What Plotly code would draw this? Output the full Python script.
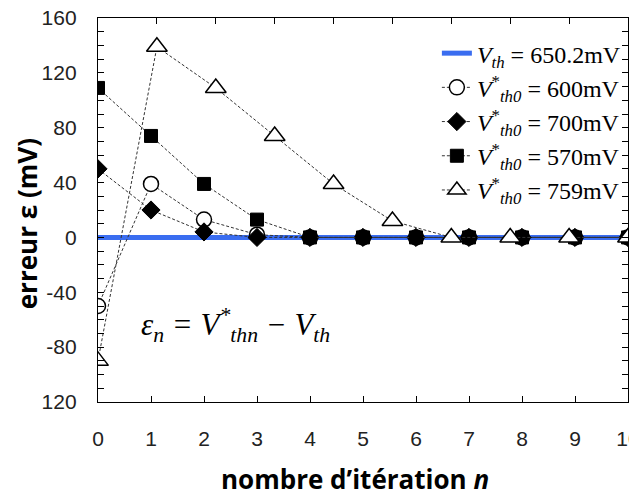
import plotly.graph_objects as go

# Data
iterations = [0, 1, 2, 3, 4, 5, 6, 7, 8, 9, 10]
iterations_759 = [0, 1, 2, 3, 4, 5, 6, 7, 8, 9]   # plotted on the top axis (0..9)
vth_x = [0, 10]
vth_err = [0, 0]
err_600 = [-50, 39, 13, 2, 0, 0, 0, 0, 0, 0, 0]
err_700 = [50, 20, 4, 0, 0, 0, 0, 0, 0, 0, 0]
err_570 = [109, 74, 39, 13, 0, 0, 0, 0, 0, 0, 0]
err_759 = [-90, 139, 109, 74, 39, 12, 0, 0, 0, 0]

y_tickvals = [-120, -80, -40, 0, 40, 80, 120, 160]
y_ticktext = ["120", "-80", "-40", "0", "40", "80", "120", "160"]
x_tickvals = [0, 1, 2, 3, 4, 5, 6, 7, 8, 9, 10]

names = {
    "vth": "<i>V</i><sub><i>th</i></sub> = 650.2mV",
    "600": "<i>V</i><sup>*</sup><sub><i>th0</i></sub> = 600mV",
    "700": "<i>V</i><sup>*</sup><sub><i>th0</i></sub> = 700mV",
    "570": "<i>V</i><sup>*</sup><sub><i>th0</i></sub> = 570mV",
    "759": "<i>V</i><sup>*</sup><sub><i>th0</i></sub> = 759mV",
}

dash_line = dict(color="#333333", width=1, dash="3px,2px")

fig = go.Figure()
fig.add_trace(go.Scatter(x=vth_x, y=vth_err, mode="lines", name=names["vth"],
                         line=dict(color="#3a6df0", width=5)))
fig.add_trace(go.Scatter(x=iterations, y=err_600, mode="lines+markers", name=names["600"],
                         line=dash_line,
                         marker=dict(symbol="circle", size=15, color="white",
                                     line=dict(color="black", width=1.5))))
fig.add_trace(go.Scatter(x=iterations, y=err_700, mode="lines+markers", name=names["700"],
                         line=dash_line,
                         marker=dict(symbol="diamond", size=14, color="black",
                                     line=dict(color="black", width=1))))
fig.add_trace(go.Scatter(x=iterations, y=err_570, mode="lines+markers", name=names["570"],
                         line=dash_line,
                         marker=dict(symbol="square", size=13, color="black",
                                     line=dict(color="black", width=1))))
fig.add_trace(go.Scatter(x=iterations_759, y=err_759, mode="lines+markers", name=names["759"],
                         xaxis="x2", line=dash_line,
                         marker=dict(symbol="triangle-up", size=18, color="white",
                                     line=dict(color="black", width=1.5))))

tick_font = dict(family="Liberation Sans, Arial", size=21, color="#222222")

# The page body adds an 8px offset; sizes/margins compensate for it.
fig.update_layout(
    width=629, height=486,
    margin=dict(l=90, r=9, t=10, b=92, autoexpand=False),
    plot_bgcolor="white", paper_bgcolor="white",
    showlegend=True,
    legend=dict(x=0.996, y=0.966, xanchor="right", yanchor="top",
                bgcolor="rgba(0,0,0,0)", borderwidth=0,
                font=dict(family="Liberation Serif, Times New Roman", size=24, color="black"),
                tracegroupgap=0),
    xaxis=dict(range=[0, 10], tickvals=x_tickvals, ticks="inside", ticklen=6,
               tickcolor="black", tickwidth=1.3,
               showline=True, linecolor="black", linewidth=1.3, mirror=True,
               showgrid=False, zeroline=False, tickfont=tick_font,
               ticklabelstandoff=18, ticklabeloverflow="allow"),
    xaxis2=dict(range=[0, 9], overlaying="x", side="top", tickvals=iterations_759,
                ticks="inside", ticklen=6, tickcolor="black", tickwidth=1.3,
                showticklabels=False, showgrid=False, zeroline=False, showline=False),
    yaxis=dict(range=[-120, 160], tickvals=y_tickvals, ticktext=y_ticktext,
               ticks="inside", ticklen=6, tickcolor="black", tickwidth=1.3,
               minor=dict(dtick=10, ticks="inside", ticklen=6, tickcolor="black",
                          tickwidth=1.3, showgrid=False),
               showline=True, linecolor="black", linewidth=1.3, mirror="allticks",
               showgrid=False, zeroline=False, tickfont=tick_font,
               ticklabelstandoff=16, ticklabeloverflow="allow"),
)

fig.add_annotation(text="<i>ε<sub>n</sub> = V<sup>*</sup><sub>thn</sub> − V<sub>th</sub></i>",
                   x=2.6, y=-64, xref="x", yref="y", showarrow=False,
                   font=dict(family="Liberation Serif, Times New Roman", size=31, color="black"))

fig.add_annotation(text="<b>nombre d’itération <i>n</i></b>",
                   x=0.485, y=-0.2, xref="paper", yref="paper", xanchor="center", yanchor="middle",
                   showarrow=False,
                   font=dict(family="Open Sans", size=26, color="black"))
fig.add_annotation(text="<b>erreur ε (mV)</b>",
                   x=-0.135, y=0.464, xref="paper", yref="paper", xanchor="center", yanchor="middle",
                   textangle=-90, showarrow=False,
                   font=dict(family="Open Sans", size=26, color="black"))

fig.write_html("out.html")
